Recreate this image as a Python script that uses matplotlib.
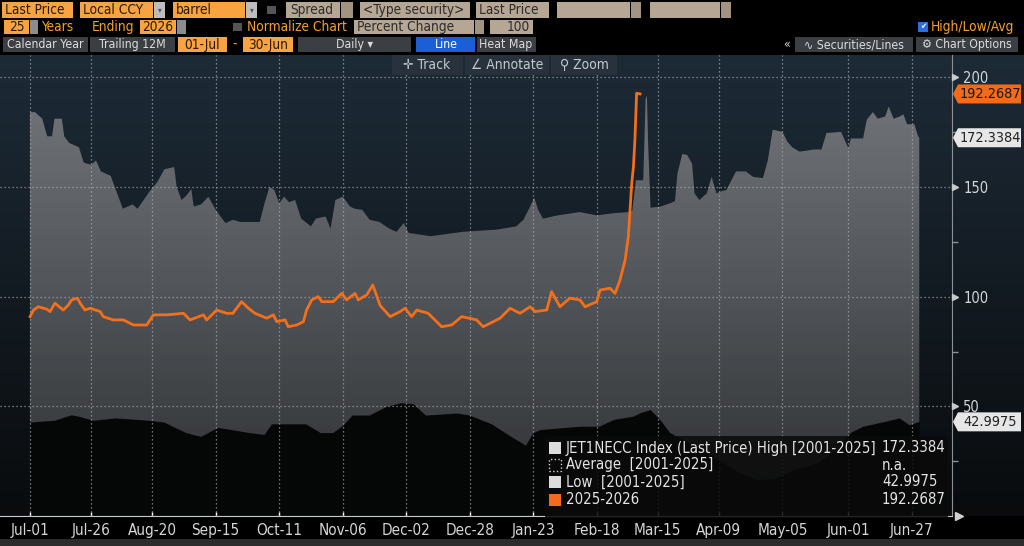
import numpy as np
import matplotlib
matplotlib.use('Agg')
import matplotlib.pyplot as plt
import matplotlib.transforms as mtransforms
from matplotlib.patches import Rectangle, Polygon
from matplotlib.colors import LinearSegmentedColormap

plt.rcParams['font.family'] = ['DejaVu Sans']
plt.rcParams['font.stretch'] = 'condensed'

# x positions are days counted from 01-Jul
tick_days = [0, 25, 50, 76, 102, 128, 154, 180, 206, 232, 257, 282, 308, 335, 361]
tick_labels = ['Jul-01', 'Jul-26', 'Aug-20', 'Sep-15', 'Oct-11', 'Nov-06', 'Dec-02', 'Dec-28',
               'Jan-23', 'Feb-18', 'Mar-15', 'Apr-09', 'May-05', 'Jun-01', 'Jun-27']
y_ticks = [50, 100, 150, 200]

# High [2001-2025]
high_day = [0, 2, 5, 7, 9, 10, 13, 14, 16, 20, 22, 25, 27, 29, 33, 35, 38, 42, 44, 49,
            52, 55, 59, 60, 62, 64, 66, 67, 70, 73, 76, 80, 83, 86, 94, 96, 98, 100, 102, 104,
            106, 108.5, 111, 115, 117, 121, 123, 125, 128, 131, 133, 136, 139, 143, 147, 150, 153, 155, 164, 177,
            191, 199, 202, 204.7, 206.4, 208, 210, 216, 225, 232, 239, 245, 246.5, 248, 251, 252, 252.5, 253, 254, 258,
            262, 264, 265, 267, 269, 271, 272, 274, 277, 279, 281, 283, 285, 289, 293, 296, 300, 302, 304, 308,
            310, 312, 315, 321, 324, 326, 332, 335, 336, 341, 342.5, 345, 347, 350, 351.5, 353.5, 356, 357.5, 359, 362,
            363.5, 364]
high_val = [184, 184, 181, 173, 173, 181, 181, 173, 170, 168, 161, 160, 162, 157, 155, 149, 140, 142, 140, 148,
            152, 158, 159, 150, 144, 146, 149, 141, 142, 145.5, 139.5, 133.5, 135, 134, 134, 142.5, 150, 148.5, 142.5, 145.5,
            143, 144, 135.5, 132, 135.5, 136.5, 131, 144, 145.5, 141, 140, 139.5, 135, 134, 131, 129.5, 133.5, 129, 127.5, 129.5,
            130.5, 132, 135, 141, 145, 139.5, 135.5, 137, 138.5, 137, 138, 138.5, 139, 153, 153, 190, 191.5, 170, 140.5, 141,
            142.5, 143.5, 156, 165, 164.5, 160.5, 147, 144, 147, 154.5, 147, 148, 148.5, 157, 157, 154.5, 154, 162, 176, 175,
            170.5, 168, 166, 167, 167, 174.5, 175, 167.5, 172, 172, 180.5, 184, 181, 182, 186.5, 181, 182, 183, 178.5, 178.5,
            173, 172.3384]

# Low [2001-2025]
low_day = [0, 10, 17, 20, 26, 35, 49, 55, 60, 64, 70, 77, 84, 90, 96, 99, 113, 119, 124, 128,
           132, 139, 146, 152, 157, 162, 175, 180, 189, 197, 203, 206, 209, 225, 233, 239, 247, 250, 254, 258,
           262, 270, 280, 290, 298, 305, 313, 322, 330, 336, 341, 350, 356, 360, 364]
low_val = [42.7, 43.5, 46, 45.4, 43.5, 44.6, 43.5, 42.7, 40, 37.9, 36.2, 40.3, 39, 37.9, 37.1, 41.9, 41.9, 37.9, 37.9, 41.1,
           45.9, 45.9, 49.9, 51.5, 51.1, 45.9, 46.8, 45.9, 41.9, 36.2, 32.2, 37.9, 39.3, 40.8, 40.8, 43.9, 45.4, 47, 48.4, 43.9,
           38, 33, 27, 20, 16.5, 17, 21, 24, 30, 38, 40.8, 43, 44.6, 41.5, 42.9975]

# 2025-2026
cur_day = [0, 1.4, 3.4, 6.8, 8.2, 10.2, 13.6, 15.7, 17, 19.4, 20.5, 22.5, 24.6, 28.7, 30, 34, 38.2, 42.3, 47.8, 50.5,
           55.9, 62.8, 65.5, 71, 72.3, 76.4, 80.5, 83, 86.6, 89.4, 92.1, 96.9, 99.6, 101, 104.4, 105.7, 109.2, 111.9, 113.2, 115.3,
           118, 119.4, 124.1, 127.6, 129.6, 133, 134.4, 137.8, 140.3, 143.3, 147.4, 151.5, 153.5, 156.2, 158.3, 163, 168.5, 172.6, 176.7, 182.8,
           185.5, 189.6, 192.4, 196.5, 200.6, 204.7, 206.7, 211.5, 213.5, 216.9, 221, 225.1, 227.2, 232, 233.3, 237.4, 239.5, 241.5, 243.6, 244.9,
           246.3, 247, 247.6, 248.3, 249.7]
cur_val = [90.9, 93.9, 95.4, 94.3, 93.2, 97, 93.9, 96.2, 98.5, 99.3, 97, 93.9, 94.7, 93.2, 90.9, 89.4, 89.4, 87.1, 87.1, 91.7,
           91.7, 92.4, 89.4, 91.7, 89.4, 93.9, 92.4, 92.4, 97.7, 94.7, 92.4, 90.2, 91.7, 88.6, 89.4, 86.3, 87.1, 88.6, 93.9, 98.5,
           100, 97.7, 97.7, 101.5, 98.5, 101.5, 98.5, 100.8, 105.3, 96, 90.9, 93.2, 94.7, 90.9, 93.9, 92.4, 86.3, 87.1, 90.9, 89.4,
           86.3, 88.6, 90.2, 94.7, 92.4, 95.4, 93.2, 93.9, 102.3, 95.4, 99.3, 98.5, 95.4, 97.7, 103, 103.8, 101.5, 107.6, 116.7, 127.3,
           151.6, 159.2, 171.4, 192.6, 192.2687]

W, H = 1024, 546
ORANGE = '#f36f1c'
OB = '#f7a440'      # orange input boxes
OT = '#f5a02c'      # orange labels
BEIGE = '#b6a795'
BEIGE_DD = '#a39482'
GB = '#3b3e42'
BLUE = '#1b5fd6'
DARK = '#2a1a05'
TB = 9.8            # toolbar font size
TB3 = 8.8           # button row font size

fig = plt.figure(figsize=(W / 100, H / 100), dpi=100, facecolor='black')


def box(x0, y0, x1, y1, color, **kw):
    fig.add_artist(Rectangle((x0 / W, 1 - y1 / H), (x1 - x0) / W, (y1 - y0) / H,
                             transform=fig.transFigure, facecolor=color, edgecolor='none', **kw))


def txt(x, y, s, color, size=TB, ha='left', **kw):
    fig.text(x / W, 1 - y / H, s, color=color, fontsize=size, ha=ha, va='center', **kw)


# chart panel position (pixels from top-left)
top_px, bot_px, right_px = 55, 516.3, 952

# background gradient behind the whole chart panel
bg = fig.add_axes([0, 1 - bot_px / H, 1, (bot_px - top_px) / H], zorder=-1)
bg_cmap = LinearSegmentedColormap.from_list('bg', ['#090b0d', '#1d2b37'])
bg.imshow(np.linspace(0, 1, 256).reshape(-1, 1), cmap=bg_cmap, aspect='auto', origin='lower',
          extent=(0, 1, 0, 1))
bg.axis('off')

ax = fig.add_axes([0, 1 - bot_px / H, right_px / W, (bot_px - top_px) / H])
ax.set_facecolor('none')
ax.set_xlim(-12.3, 377.4)
ax.set_ylim(0, 210)

# black area below the low
ax.fill_between(low_day, 0, low_val, color='#050606', lw=0, zorder=1)

# grey high/low band with a vertical gradient
band_x = np.concatenate([high_day, low_day[::-1]])
band_y = np.concatenate([high_val, low_val[::-1]])
band = Polygon(np.column_stack([band_x, band_y]), closed=True, facecolor='none', edgecolor='none')
ax.add_patch(band)
band_cmap = LinearSegmentedColormap.from_list('band', ['#2d2f32', '#777b80'])
im = ax.imshow(np.linspace(0, 1, 256).reshape(-1, 1), cmap=band_cmap, aspect='auto', origin='lower',
               extent=(-12.3, 377.4, 0, 210), zorder=1.5)
im.set_clip_path(band)

# dotted grid
for d in tick_days:
    ax.axvline(d, color='#a9aeb3', lw=0.9, ls=(0, (1, 2.2)), alpha=0.85, zorder=3)
for v in [0] + y_ticks:
    ax.axhline(v, color='#a9aeb3', lw=0.9, ls=(0, (1, 2.2)), alpha=0.85, zorder=3)

ax.plot(cur_day, cur_val, color=ORANGE, lw=2, zorder=4, solid_joinstyle='round')

# axes styling
for s in ['top', 'left']:
    ax.spines[s].set_visible(False)
ax.spines['right'].set_color('#8d9196')
ax.spines['bottom'].set_color('#c8c8c8')
ax.yaxis.tick_right()
ax.set_yticks(y_ticks)
ax.set_yticks([25, 75, 125, 175], minor=True)
ax.tick_params(axis='y', which='major', length=0, pad=8, labelsize=10.5, labelcolor='#d4d6d8')
ax.tick_params(axis='y', which='minor', length=4, width=1, color='#8d9196', direction='out')
ax.set_xticks(tick_days, tick_labels)
ax.tick_params(axis='x', length=3, width=1, color='white', direction='in', pad=5,
               labelsize=11, labelcolor='#d6d6d6')

blend = mtransforms.blended_transform_factory(ax.transAxes, ax.transData)
ax.plot(np.ones(len(y_ticks)) * 1.003, y_ticks, ls='none', marker='>', ms=4, color='#c8cacc',
        transform=blend, clip_on=False, zorder=5)
ax.plot([1.007], [0], marker='>', ms=6, color='#d0d0d0', transform=blend, clip_on=False)

# value tags on the right axis
def tag(value, face, tc):
    y = H - ax.transData.transform((0, value))[1]
    pts = [(953, y), (958, y - 9.5), (1021, y - 9.5), (1021, y + 9.5), (958, y + 9.5)]
    fig.add_artist(Polygon([(px / W, 1 - py / H) for px, py in pts], transform=fig.transFigure,
                           facecolor=face, edgecolor='none'))
    txt(990, y, f'{value:.4f}', tc, size=10.4, ha='center')


tag(cur_val[-1], '#f26a1b', '#1a1a1a')
tag(high_val[-1], '#e6e6e6', '#222222')
tag(low_val[-1], '#e6e6e6', '#222222')

# legend box
box(545, 436, 948, 517, '#0a0a0a', alpha=0.86)
rows = [448, 465, 482, 500]
box(549, rows[0] - 6, 561, rows[0] + 6, '#dcdcdc')
fig.add_artist(Rectangle((549 / W, 1 - (rows[1] + 6) / H), 12 / W, 12 / H, transform=fig.transFigure,
                         facecolor='none', edgecolor='#cfcfcf', ls=':', lw=1))
box(549, rows[2] - 6, 561, rows[2] + 6, '#dcdcdc')
box(549, rows[3] - 6, 561, rows[3] + 6, '#f26a1b')
leg_labels = ['JET1NECC Index (Last Price) High [2001-2025]', 'Average  [2001-2025]',
              'Low  [2001-2025]', '2025-2026']
leg_values = [f'{high_val[-1]:.4f}', 'n.a.', f'{low_val[-1]:.4f}', f'{cur_val[-1]:.4f}']
for r, lab, val in zip(rows, leg_labels, leg_values):
    txt(566, r, lab, '#e4e4e4', size=10.7)
    txt(882, r, val, '#e4e4e4', size=10.7)

# Track / Annotate / Zoom bar
box(392, 55, 463, 75, '#27323c')
box(465, 55, 549, 75, '#27323c')
box(551, 55, 617, 75, '#27323c')
txt(427, 65, '✛ Track', '#c3c8cc', size=10, ha='center')
txt(507, 65, '∠ Annotate', '#c3c8cc', size=10, ha='center')
txt(584, 65, '⚲ Zoom', '#c3c8cc', size=10, ha='center')

# toolbar row 1
box(2, 2, 73, 18, OB); txt(5, 10, 'Last Price', DARK)
box(80, 2, 153, 18, OB); txt(83, 10, 'Local CCY', DARK)
box(154, 2, 165, 18, '#bdbdbd'); txt(159.5, 10, '▾', '#555555', size=6, ha='center')
box(173, 2, 245, 18, OB); txt(176, 10, 'barrel', DARK)
box(246, 2, 257, 18, '#bdbdbd'); txt(251.5, 10, '▾', '#555555', size=6, ha='center')
box(267, 6, 276, 14, '#555555')
box(286, 2, 340, 18, BEIGE); txt(290, 10, 'Spread', '#2c2c2c')
box(341, 2, 353, 18, BEIGE_DD)
box(360, 2, 470, 18, BEIGE); txt(363, 10, '<Type security>', '#2c2c2c')
box(476, 2, 549, 18, BEIGE); txt(479, 10, 'Last Price', '#2c2c2c')
box(557, 2, 630, 18, BEIGE); box(631, 2, 641, 18, BEIGE_DD)
box(650, 2, 720, 18, BEIGE); box(721, 2, 731, 18, BEIGE_DD)

# toolbar row 2
box(4, 20, 29, 34, OB); txt(16.5, 27, '25', DARK, ha='center')
box(30, 20, 38, 34, '#8c8c8c')
txt(41, 27, 'Years', OT); txt(92, 27, 'Ending', OT)
box(140, 20, 176, 34, OB); txt(158, 27, '2026', DARK, ha='center')
box(177, 20, 186, 34, '#8c8c8c')
box(233, 23, 242, 31, '#555555')
txt(247, 27, 'Normalize Chart', OT)
box(354, 20, 474, 34, BEIGE); txt(357, 27, 'Percent Change', '#2c2c2c')
box(475, 20, 484, 34, BEIGE_DD)
box(490, 20, 533, 34, BEIGE); txt(530, 27, '100', '#2c2c2c', ha='right')
box(918, 22, 928, 32, '#2a6fdb'); txt(923, 27, '✔', 'white', size=6, ha='center')
txt(931, 27, 'High/Low/Avg', OT)

# toolbar row 3
box(3, 37, 88, 52, GB); txt(45.5, 44.5, 'Calendar Year', '#dcdcdc', size=TB3, ha='center')
box(90, 37, 175, 52, GB); txt(132.5, 44.5, 'Trailing 12M', '#dcdcdc', size=TB3, ha='center')
box(178, 37, 227, 52, OB); txt(202.5, 44.5, '01-Jul', DARK, ha='center')
txt(235, 44.5, '-', OT, ha='center')
box(243, 37, 293, 52, OB); txt(268, 44.5, '30-Jun', DARK, ha='center')
box(298, 37, 411, 52, GB); txt(354, 44.5, 'Daily ▾', '#dcdcdc', size=TB3, ha='center')
box(416, 37, 475, 52, BLUE); txt(446, 44.5, 'Line', 'white', size=TB3, ha='center')
box(477, 37, 536, 52, GB); txt(506, 44.5, 'Heat Map', '#dcdcdc', size=TB3, ha='center')
txt(787, 44.5, '«', '#dcdcdc', size=TB3, ha='center')
box(795, 37, 913, 52, GB); txt(854, 44.5, '∿ Securities/Lines', '#dcdcdc', size=TB3, ha='center')
box(916, 37, 1018, 52, GB); txt(967, 44.5, '⚙ Chart Options', '#dcdcdc', size=TB3, ha='center')

# bottom strip
box(0, 539, 1024, 546, '#2c2c2c')

fig.savefig('out.png', dpi=100, facecolor='black')
